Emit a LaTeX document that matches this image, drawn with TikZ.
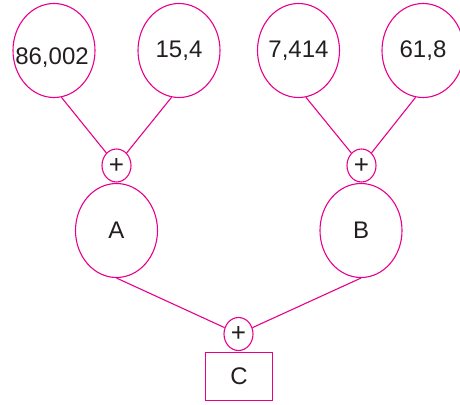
\documentclass[tikz,border=0pt]{standalone}
\usepackage{fontspec}
\setmainfont{Liberation Sans}
\usetikzlibrary{shapes.geometric}
\definecolor{mag}{RGB}{232,0,140}
\definecolor{ink}{RGB}{35,31,32}
\tikzset{
  ell/.style={ellipse, inner sep=0pt, minimum width=82pt, minimum height=94pt, draw=mag, line width=1.1pt},
  plus/.style={ellipse, inner sep=0pt, minimum width=29pt, minimum height=33pt, text=ink, font=\fontsize{26}{28}\selectfont, draw=mag, line width=1.1pt},
  resbox/.style={rectangle, inner sep=0pt, minimum width=67pt, minimum height=48pt, text=ink, font=\fontsize{24}{28}\selectfont, draw=mag, line width=1.4pt},
  txt/.style={text=ink, inner sep=0pt, font=\fontsize{24}{28}\selectfont},
  conn/.style={draw=mag, line width=1.1pt}
}
\begin{document}
\begin{tikzpicture}[x=1pt,y=-1pt]
\useasboundingbox (0,0) rectangle (460,404);
% top ellipses
\node[ell] (e1) at (54,50.5) {};
\node[ell] (e2) at (179,50.5) {};
\node[ell] (e3) at (298.5,50.5) {};
\node[ell] (e4) at (423,50.5) {};
\node[txt] (t1) at (52,58) {86,002};
\node[txt] (t2) at (179,51) {15,4};
\node[txt] (t3) at (298.5,51) {7,414};
\node[txt] (t4) at (423,51) {61,8};
% plus nodes
\node[plus] (p1) at (116.5,165.5) {+};
\node[plus] (p2) at (361.5,165.5) {+};
\node[plus] (p3) at (238.5,334) {+};
% middle ellipses
\node[ell] (a) at (116.5,230.5) {};
\node[ell] (b) at (361,230.5) {};
\node[txt] (ta) at (116.5,230.5) {A};
\node[txt] (tb) at (361,230.5) {B};
% result box
\node[resbox] (c) at (239,376.5) {C};
% connectors
\draw[conn] (e1.-81) -- (p1);
\draw[conn] (e2.-99) -- (p1);
\draw[conn] (e3.-81) -- (p2);
\draw[conn] (e4.-99) -- (p2);
\draw[conn] (a.south) -- (p3);
\draw[conn] (b.south) -- (p3);
\end{tikzpicture}
\end{document}
